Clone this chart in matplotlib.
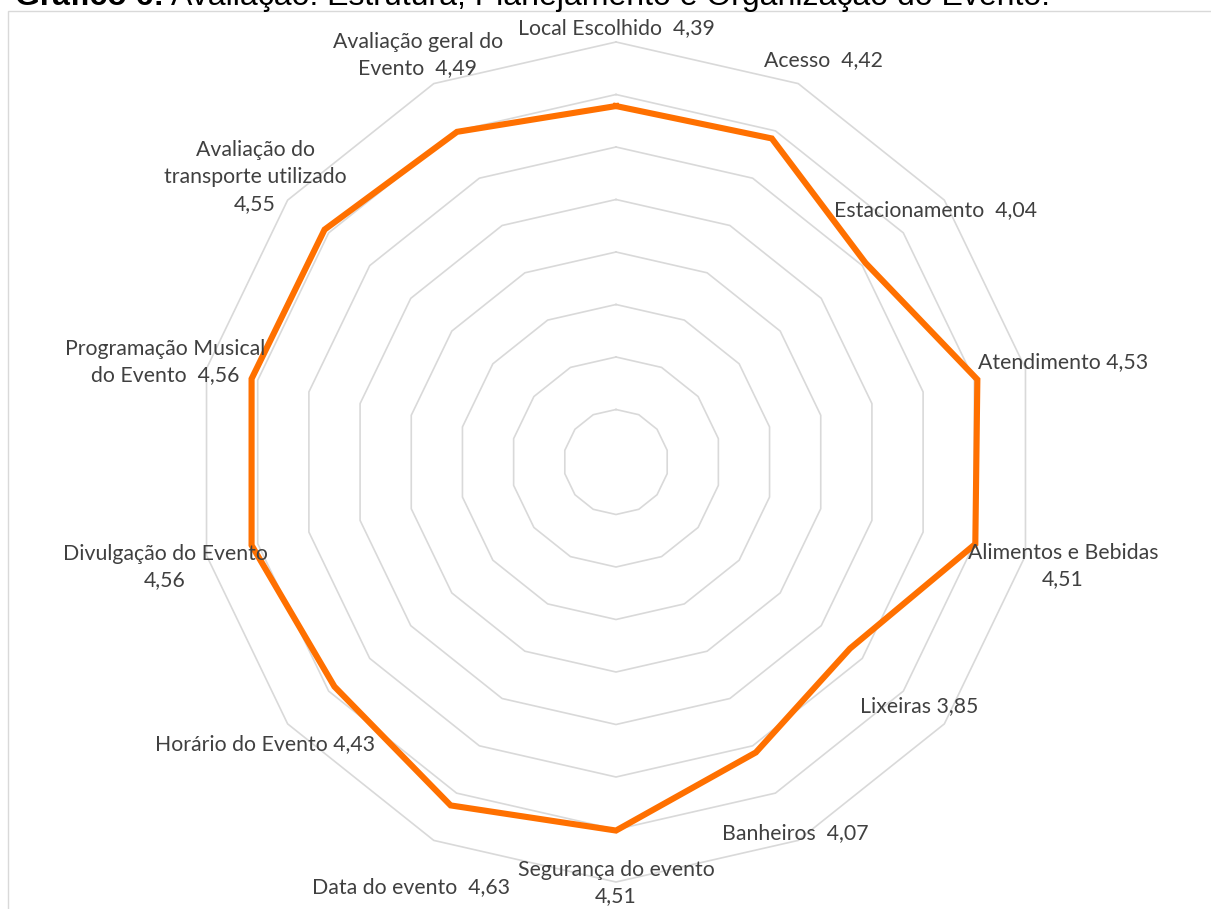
import numpy as np
import matplotlib
matplotlib.use("Agg")
from matplotlib import pyplot as plt

# dados do gráfico (ordem horária a partir do topo)
categorias = ["Local Escolhido", "Acesso", "Estacionamento", "Atendimento",
              "Alimentos e Bebidas", "Lixeiras", "Banheiros", "Segurança do evento",
              "Data do evento", "Horário do Evento", "Divulgação do Evento",
              "Programação Musical do Evento", "Avaliação do transporte utilizado",
              "Avaliação geral do Evento"]
notas = [4.39, 4.42, 4.04, 4.53, 4.51, 3.85, 4.07, 4.51, 4.63, 4.43, 4.56, 4.56, 4.55, 4.49]
rotulos = ["Local Escolhido  4,39", "Acesso  4,42", "Estacionamento  4,04",
           "Atendimento 4,53", "Alimentos e Bebidas\n4,51", "Lixeiras 3,85",
           "Banheiros  4,07", "Segurança do evento\n4,51", "Data do evento  4,63",
           "Horário do Evento 4,43", "Divulgação do Evento\n4,56",
           "Programação Musical\ndo Evento  4,56",
           "Avaliação do\ntransporte utilizado\n4,55", "Avaliação geral do\nEvento  4,49"]
escala_min, escala_max, passo = 1.0, 5.0, 0.5

# posição dos rótulos (pixels, centro do texto)
pos_rotulos = [(616, 28), (823, 60), (935, 210), (1063, 362), (1063, 566),
               (919, 706), (795, 833), (616, 883), (411, 887), (265, 744),
               (165, 567), (165, 362), (255, 177), (418, 55)]

W, H = 1211, 909
cx, cy, px_unid = 616, 462, 105.0

fig = plt.figure(figsize=(W / 100, H / 100), dpi=100)
ax = fig.add_axes([0, 0, 1, 1])
ax.set_xlim(-cx / px_unid, (W - cx) / px_unid)
ax.set_ylim(-(H - cy) / px_unid, cy / px_unid)
ax.axis("off")

n = len(categorias)
ang = np.arange(n) * 2 * np.pi / n

# grade
for nivel in np.arange(escala_min + passo, escala_max + 0.001, passo):
    r = nivel - escala_min
    xs = np.append(r * np.sin(ang), r * np.sin(ang[0]))
    ys = np.append(r * np.cos(ang), r * np.cos(ang[0]))
    ax.plot(xs, ys, color="#d9d9d9", lw=1.2, zorder=1)

# série
r = np.array(notas) - escala_min
xs = np.append(r * np.sin(ang), r[0] * np.sin(ang[0]))
ys = np.append(r * np.cos(ang), r[0] * np.cos(ang[0]))
ax.plot(xs, ys, color="#ff7000", lw=4.4, solid_joinstyle="miter", zorder=3)

for txt, (px, py) in zip(rotulos, pos_rotulos):
    fig.text(px / W, 1 - py / H, txt, ha="center", va="center", fontsize=15.3,
             family="Lato", color="#404040", linespacing=1.42, zorder=5)

# moldura do gráfico
fig.add_artist(plt.Rectangle((7.5 / W, -0.1), 1.2, 1 - 10.5 / H + 0.1,
                             transform=fig.transFigure, fill=False,
                             edgecolor="#d9d9d9", lw=1.0))

# título (cortado no topo)
t1 = fig.text(15 / W, 1 - 5 / H, "Gráfico 6:", ha="left", va="baseline",
              fontsize=23, family="Liberation Sans", weight="bold", color="black")
fig.canvas.draw()
bb = t1.get_window_extent()
fig.text(bb.x1 / W + 7 / W, 1 - 5 / H,
         "Avaliação: Estrutura, Planejamento e Organização do Evento.",
         ha="left", va="baseline", fontsize=23, family="Liberation Sans", color="black")

fig.savefig("out.png", dpi=100)
